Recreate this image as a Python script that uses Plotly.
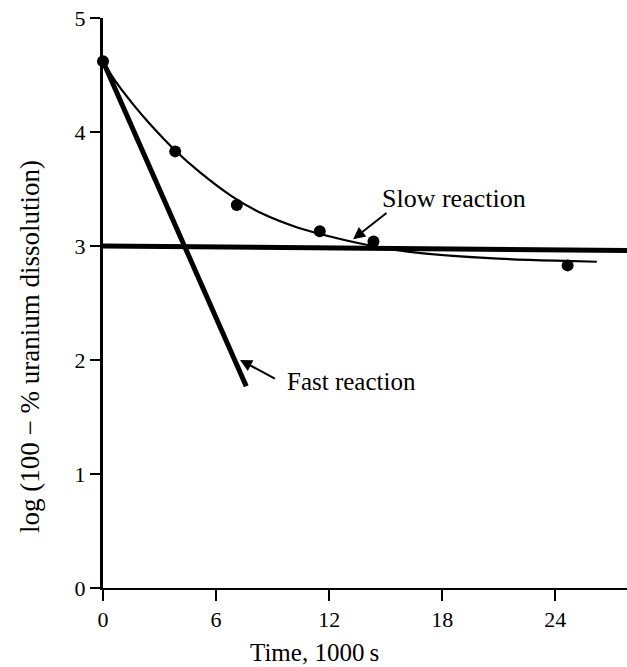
import plotly.graph_objects as go

# Measured data points (slow reaction)
point_time = [0, 3.83, 7.1, 11.5, 14.35, 24.65]
point_log = [4.62, 3.83, 3.36, 3.13, 3.04, 2.83]

# Smooth fitted curve through the points
curve_time = [0, 0.64, 1.61, 2.49, 3.82, 5.15, 6.8, 8.5, 10.27, 12.0, 12.92,
              14.3, 15.5, 17.0, 20.5, 24.0, 26.2]
curve_log = [4.62, 4.45, 4.24, 4.07, 3.84, 3.645, 3.44, 3.28, 3.165, 3.085, 3.048,
             3.00, 2.966, 2.935, 2.893, 2.871, 2.862]

# Fast reaction straight line
fast_time = [0, 7.6]
fast_log = [4.62, 1.77]

# Slow reaction (asymptote) straight line
slow_time = [0, 27.8]
slow_log = [3.0, 2.96]

x_ticks = [0, 6, 12, 18, 24]
y_ticks = [0, 1, 2, 3, 4, 5]

FONT = "Liberation Serif, Times New Roman, serif"

fig = go.Figure()
fig.add_trace(go.Scatter(x=slow_time, y=slow_log, mode="lines",
                         line=dict(color="black", width=5), cliponaxis=False))
fig.add_trace(go.Scatter(x=fast_time, y=fast_log, mode="lines",
                         line=dict(color="black", width=5), cliponaxis=False))
fig.add_trace(go.Scatter(x=curve_time, y=curve_log, mode="lines",
                         line=dict(color="black", width=2.2, shape="spline", smoothing=0.8),
                         cliponaxis=False))
fig.add_trace(go.Scatter(x=point_time, y=point_log, mode="markers",
                         marker=dict(color="black", size=12), cliponaxis=False))

# Annotations: labels with pointer arrows
fig.add_annotation(x=7.27, y=2.0, ax=9.2, ay=1.83, axref="x", ayref="y",
                   text="", showarrow=True, arrowhead=2, arrowsize=1.2,
                   arrowwidth=2, arrowcolor="black")
fig.add_annotation(x=9.65, y=1.81, text="Fast reaction", showarrow=False,
                   xanchor="left", yanchor="middle",
                   font=dict(family=FONT, size=25, color="black"))
fig.add_annotation(x=13.27, y=3.06, ax=15.12, ay=3.30, axref="x", ayref="y",
                   text="", showarrow=True, arrowhead=2, arrowsize=1.2,
                   arrowwidth=2, arrowcolor="black")
fig.add_annotation(x=18.62, y=3.42, text="Slow reaction", showarrow=False,
                   xanchor="center", yanchor="middle",
                   font=dict(family=FONT, size=26, color="black"))

# Axis titles as annotations (positioned as in reference)
fig.add_annotation(xref="paper", yref="paper", x=0.4027, y=-0.1123,
                   text="Time, 1000\u2009s", showarrow=False,
                   xanchor="center", yanchor="middle",
                   font=dict(family=FONT, size=25, color="black"))
fig.add_annotation(xref="paper", yref="paper", x=-0.1393, y=0.4228,
                   text="log (100 \u2212 % uranium dissolution)", showarrow=False,
                   textangle=-90, xanchor="center", yanchor="middle",
                   font=dict(family=FONT, size=27, color="black"))

fig.update_xaxes(range=[0, 27.8], tickvals=x_ticks, ticks="outside", ticklen=11,
                 tickwidth=2, tickcolor="black", showline=True, linecolor="black",
                 linewidth=2, showgrid=False, zeroline=False,
                 tickfont=dict(family=FONT, size=22, color="black"))
fig.update_yaxes(range=[0, 5], tickvals=y_ticks, ticks="outside", ticklen=10,
                 tickwidth=2, tickcolor="black", showline=True, linecolor="black",
                 linewidth=3, showgrid=False, zeroline=False,
                 tickfont=dict(family=FONT, size=22, color="black"))

fig.update_layout(width=627, height=667, margin=dict(l=103, r=0, t=18, b=79),
                  plot_bgcolor="white", paper_bgcolor="white", showlegend=False)

fig.write_html("out.html")
